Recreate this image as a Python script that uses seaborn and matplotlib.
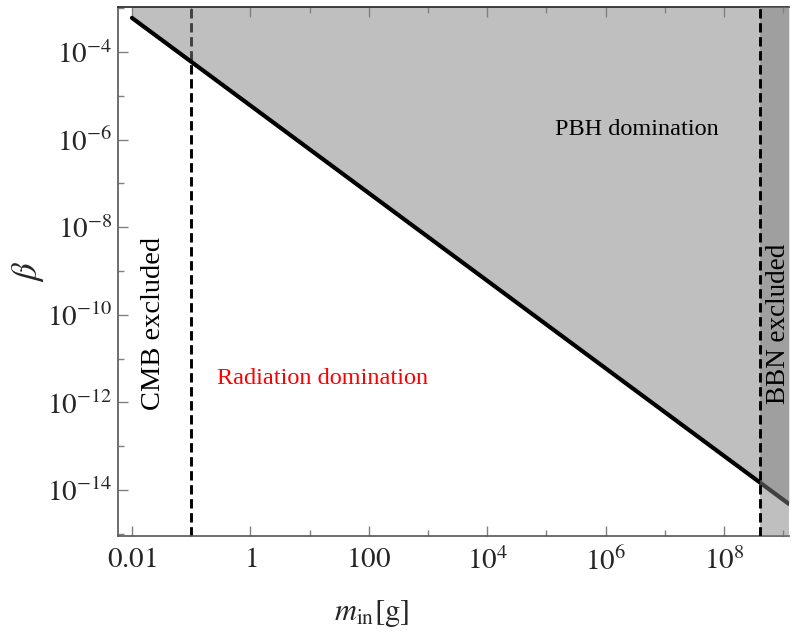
import numpy as np
import pandas as pd
import seaborn as sns
import matplotlib.pyplot as plt
from matplotlib.ticker import FixedLocator, NullFormatter

# values
m_line = [0.01, 1.25e9]          # g
beta_line = [6.0e-4, 4.8e-15]
m_cmb = 0.1                      # CMB bound (g)
m_bbn = 4.0e8                    # BBN bound (g)
x_ticks = [1e-2, 1e0, 1e2, 1e4, 1e6, 1e8]
x_ticklabels = [r"$0.01$", r"$1$", r"$100$", r"$10^{4}$", r"$10^{6}$", r"$10^{8}$"]
x_minor = [1e-1, 1e1, 1e3, 1e5, 1e7, 1e9]
y_ticks = [1e-14, 1e-12, 1e-10, 1e-8, 1e-6, 1e-4]
y_ticklabels = [r"$10^{-14}$", r"$10^{-12}$", r"$10^{-10}$", r"$10^{-8}$", r"$10^{-6}$", r"$10^{-4}$"]
y_minor = [1e-15, 1e-13, 1e-11, 1e-9, 1e-7, 1e-5, 1e-3]

sns.set_style("white")
plt.rcParams["font.family"] = ["Liberation Serif", "DejaVu Serif"]
plt.rcParams["mathtext.fontset"] = "stix"

line_df = pd.DataFrame({"m": m_line, "beta": beta_line})

fig = plt.figure(figsize=(7.91, 6.34), dpi=100)
ax = fig.add_axes([118 / 791, 98 / 634, 671 / 791, 529 / 634])
ax.set_xscale("log")
ax.set_yscale("log")
xlim = (10 ** -2.236, 10 ** 9.098)
ylim = (10 ** -15.05, 10 ** -2.973)

dash = (0, (3.2, 1.6))
# CMB dashed line sits under the PBH shading
ax.axvline(m_cmb, color="black", lw=2.1, ls=dash, zorder=1)

# PBH domination region above the line
ax.fill_between(line_df["m"], line_df["beta"], 1.0, color="#818181", alpha=0.5,
                lw=0, zorder=2)

sns.lineplot(data=line_df, x="m", y="beta", color="black", linewidth=3.0,
             ax=ax, zorder=3)

# BBN excluded band, drawn over the line
ax.axvspan(m_bbn, 1e12, color="#818181", alpha=0.5, lw=0, zorder=4)
ax.axvline(m_bbn, color="black", lw=2.1, ls=dash, zorder=5)

ax.set_xlim(*xlim)
ax.set_ylim(*ylim)

ax.xaxis.set_major_locator(FixedLocator(x_ticks))
ax.xaxis.set_minor_locator(FixedLocator(x_minor))
ax.set_xticklabels(x_ticklabels)
ax.xaxis.set_minor_formatter(NullFormatter())
ax.yaxis.set_major_locator(FixedLocator(y_ticks))
ax.yaxis.set_minor_locator(FixedLocator(y_minor))
ax.set_yticklabels(y_ticklabels)
ax.yaxis.set_minor_formatter(NullFormatter())

ax.tick_params(which="both", direction="in", color="#808080", width=1.0,
               top=True, bottom=True, left=True, right=False, labelsize=21)
ax.tick_params(which="major", length=7)
ax.tick_params(which="minor", length=4)
ax.tick_params(axis="x", pad=8)
ax.tick_params(axis="y", pad=4)

for side in ["left", "bottom", "top"]:
    ax.spines[side].set_color("#555555")
    ax.spines[side].set_linewidth(1.2)
ax.spines["top"].set_color("#222222")
ax.spines["right"].set_visible(False)

ax.set_xlabel(r"$m_{\mathrm{in}}[\mathrm{g}]$", fontsize=22)
ax.set_ylabel(r"$\beta$", fontsize=25)
ax.xaxis.set_label_coords(0.378, -0.118)
ax.yaxis.set_label_coords(-0.108, 0.5)

ax.text(3.4e6, 1.7e-6, "PBH domination", fontsize=17.5, color="black",
        ha="center", va="center", zorder=6)
ax.text(16.8, 3.6e-12, "Radiation domination", fontsize=17.5, color="red",
        ha="center", va="center", zorder=6)
ax.text(0.0235, 6.5e-11, "CMB excluded", fontsize=20.5, color="black",
        rotation=90, ha="center", va="center", zorder=6)
ax.text(8.4e8, 6.3e-11, "BBN excluded", fontsize=19.5, color="black",
        rotation=90, ha="center", va="center", zorder=6)

fig.savefig("out.png", dpi=100)
